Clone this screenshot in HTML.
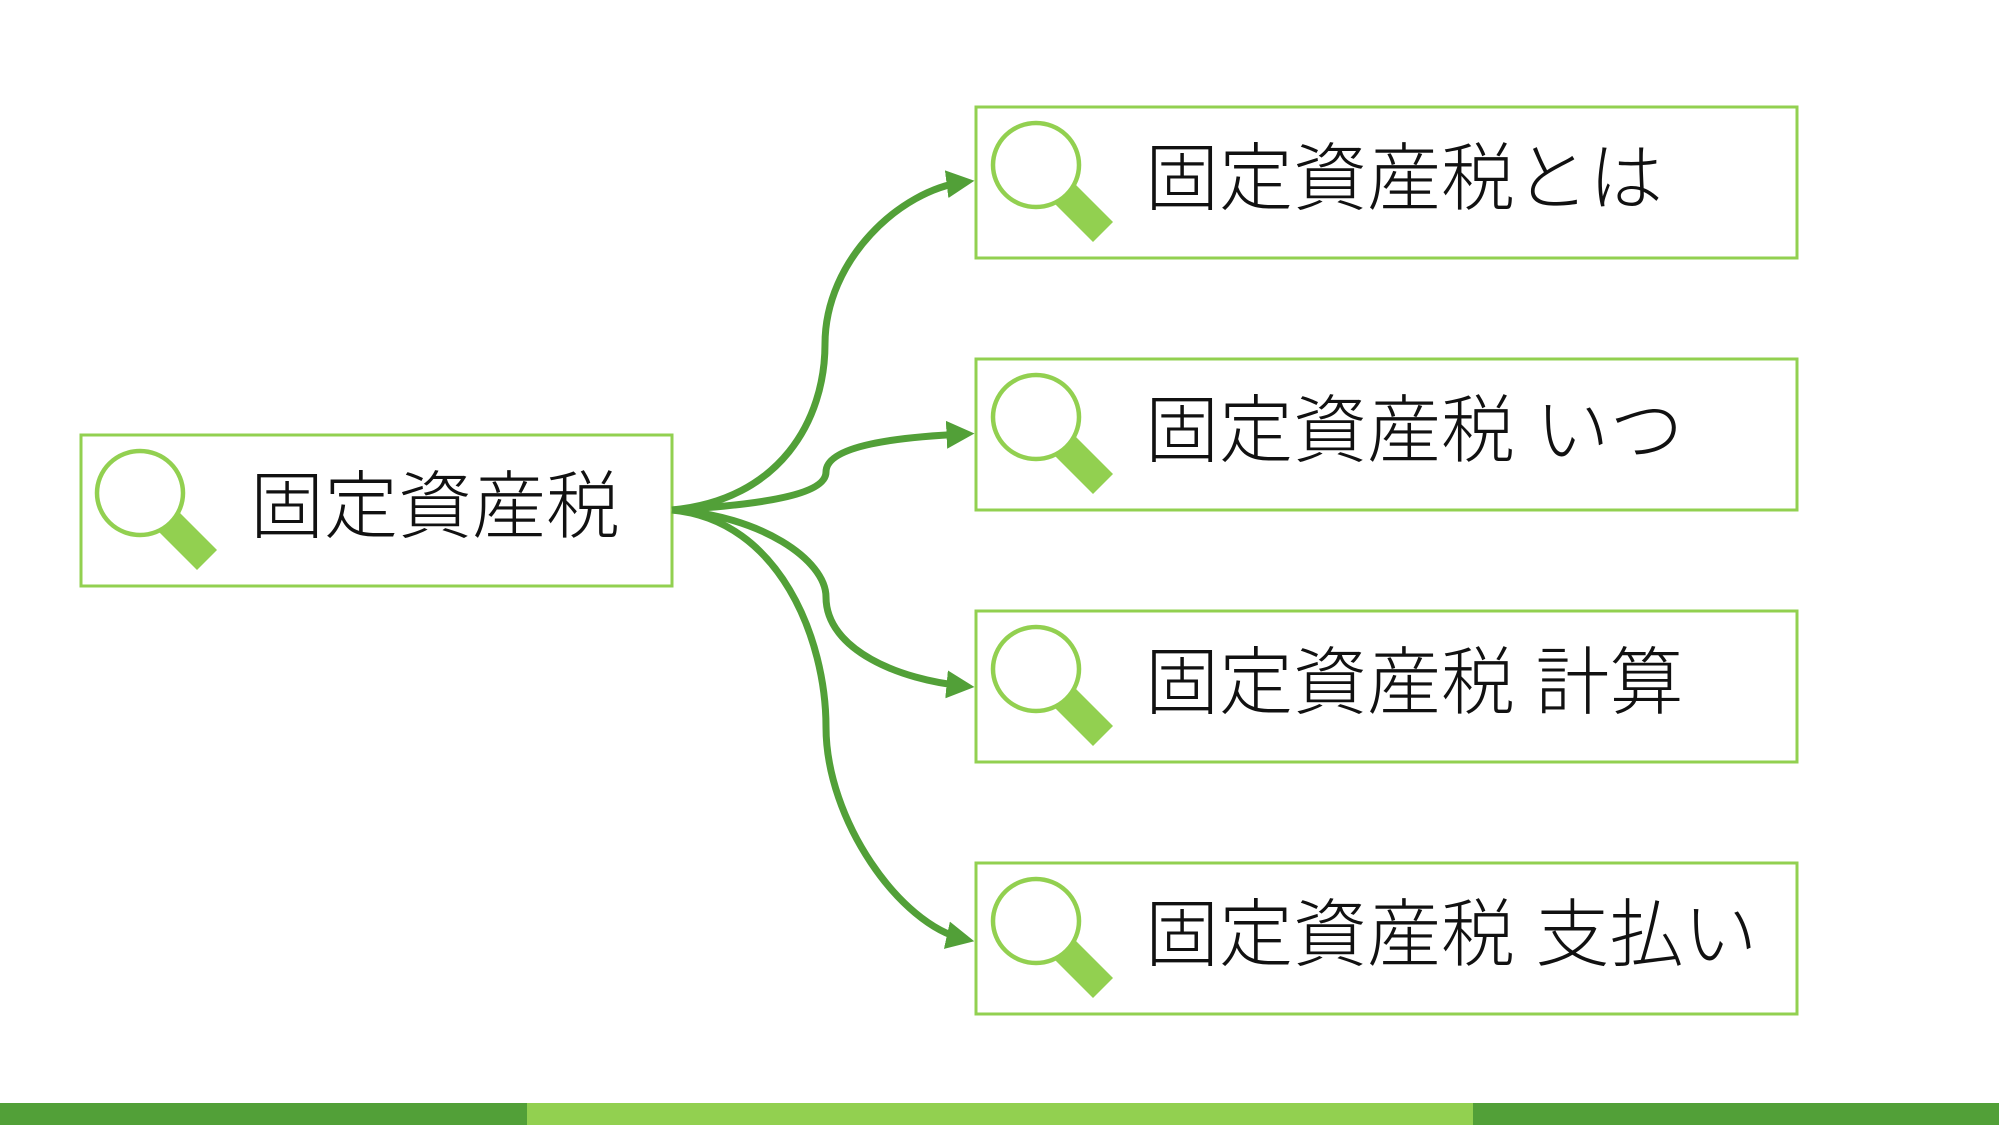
<!DOCTYPE html>
<html><head><meta charset="utf-8"><style>
html,body{margin:0;padding:0;background:#fff;}
body{width:1999px;height:1125px;position:relative;overflow:hidden;font-family:"Liberation Sans","Noto Sans CJK JP",sans-serif;}
.t{position:absolute;font-size:74px;color:#111;line-height:1;white-space:nowrap;font-weight:300;}
</style></head><body>
<svg width="1999" height="1125" style="position:absolute;left:0;top:0">
<defs>
<marker id="a" markerWidth="4" markerHeight="4" refX="2.5" refY="2" orient="auto" markerUnits="strokeWidth">
<path d="M0,0 L4,2 L0,4 z" fill="#52a038"/></marker>
<g id="mag">
<polygon points="34,14 77,57 57,77 14,34" fill="#92d050"/>
<ellipse cx="0" cy="0" rx="43" ry="42" fill="#fff" stroke="#92d050" stroke-width="4.5"/>
</g>
</defs>
<g fill="none" stroke="#92d050" stroke-width="3">
<rect x="81" y="435" width="591" height="151"/>
<rect x="976" y="107" width="821" height="151"/>
<rect x="976" y="359" width="821" height="151"/>
<rect x="976" y="611" width="821" height="151"/>
<rect x="976" y="863" width="821" height="151"/>
</g>
<use href="#mag" x="140" y="493"/>
<use href="#mag" x="1036" y="165"/>
<use href="#mag" x="1036" y="417"/>
<use href="#mag" x="1036" y="669"/>
<use href="#mag" x="1036" y="921"/>
<g fill="none" stroke="#52a038" stroke-width="7" marker-end="url(#a)">
<path d="M672,510 C780,500 825,420 825,344 C825,260 900,190 964,182"/>
<path d="M672,510 C760,505 826,495 826,472 C826,445 900,437 964,434"/>
<path d="M672,510 C760,515 826,560 826,597 C826,650 900,680 964,686"/>
<path d="M672,510 C780,520 826,640 826,727 C826,820 900,925 964,939"/>
</g>
<rect x="0" y="1103" width="527" height="22" fill="#52a038"/>
<rect x="527" y="1103" width="946" height="22" fill="#92d050"/>
<rect x="1473" y="1103" width="526" height="22" fill="#52a038"/>
</svg>
<div class="t" style="left:250px;top:470px">固定資産税</div>
<div class="t" style="left:1145px;top:142px">固定資産税とは</div>
<div class="t" style="left:1145px;top:394px">固定資産税 いつ</div>
<div class="t" style="left:1145px;top:646px">固定資産税 計算</div>
<div class="t" style="left:1145px;top:898px">固定資産税 支払い</div>
</body></html>
